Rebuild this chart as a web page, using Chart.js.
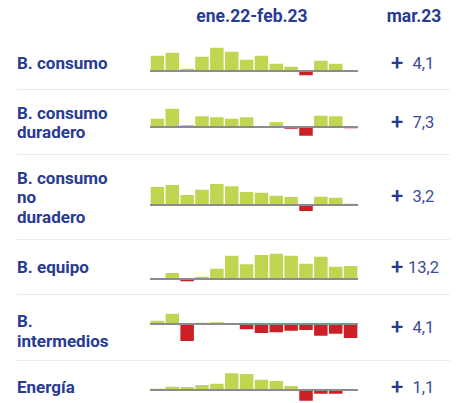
<!DOCTYPE html>
<html>
<head>
<meta charset="utf-8">
<script src="https://cdn.jsdelivr.net/npm/chart.js@4/dist/chart.umd.min.js"></script>
<style>
  html, body { margin:0; padding:0; background:#fff; }
  body { width:456px; height:403px; position:relative; overflow:hidden; font-family:"Roboto", "Liberation Sans", sans-serif; }
  .hdr { position:absolute; font-weight:bold; font-size:17.5px; color:#283b92; line-height:20px; text-align:center; }
  .lab { position:absolute; left:17px; font-weight:bold; font-size:17px; color:#283b92; line-height:19.5px; }
  .sep { position:absolute; left:17px; width:433px; height:1px; background:#ebebeb; }
  .plus { position:absolute; left:391px; font-size:22px; font-weight:500; color:#283b92; line-height:20px; }
  .val { position:absolute; width:40px; left:403.5px; text-align:center; font-size:16.5px; color:#3a4a9c; line-height:20px; }
  canvas { position:absolute; }
</style>
</head>
<body>
<div class="hdr" style="left:182px; width:140px; top:6px;">ene.22-feb.23</div>
<div class="hdr" style="left:380px; width:68px; top:6px;">mar.23</div>
<div id="root"></div>
<script>
// Row labels
const categories = ["B. consumo", "B. consumo\nduradero", "B. consumo\nno\nduradero", "B. equipo", "B.\nintermedios", "Energía"];
// Months ene.22 - feb.23
const months = ["ene.22","feb.22","mar.22","abr.22","may.22","jun.22","jul.22","ago.22","sep.22","oct.22","nov.22","dic.22","ene.23","feb.23"];
// Year-on-year rates
const consumo      = [8, 9.5, 1.5, 7.5, 12, 10, 6, 8, 4, 2.5, -2.5, 5.5, 4, -0.7];
const duradero     = [4.5, 9.5, 1.3, 5.7, 5.2, 4.5, 5.2, 0, 2.7, -1.2, -4.7, 6, 5.7, -1];
const noDuradero   = [9.3, 10.3, 5.3, 8, 10.8, 9.7, 6.8, 6.5, 5, 4.3, -3.3, 4.5, 4, 0.8];
const equipo       = [0, 3.3, -1.5, 1.5, 5.5, 12, 7.7, 12.3, 13, 12, 8, 11.5, 6.5, 6.8];
const intermedios  = [2, 5.5, -8.8, 0.8, 1.2, 0, -3, -4.8, -4.5, -3.7, -3.3, -6.2, -5.2, -7.3];
const energia      = [1, 2, 1.8, 2.8, 3.5, 8.7, 8.3, 5.5, 4.8, 2.3, -5.7, -2.2, -2.2, 0.5];
// Latest value (mar.23)
const latest = ["4,1", "7,3", "3,2", "13,2", "4,1", "1,1"];

const series = [consumo, duradero, noDuradero, equipo, intermedios, energia];

// layout (positions only)
const labelCenters = [64, 123, 198, 268, 331.5, 388];
const valueCenters = [64, 123, 197, 268, 328, 388];
const baselines = [71, 127, 205, 279, 324, 390];
const canvasTops = [44, 98, 170, 244, 298, 364];
const canvasHeights = [40, 44, 50, 46, 60, 38];
const separators = [89, 154, 239, 294, 360];
const pxPerUnit = 2;
const GREEN = "#c0d651", RED = "#cc1f26";

const root = document.getElementById("root");
separators.forEach(y => {
  const d = document.createElement("div"); d.className = "sep"; d.style.top = y + "px"; root.appendChild(d);
});
categories.forEach((c, i) => {
  const lines = c.split("\n");
  const d = document.createElement("div"); d.className = "lab";
  d.style.top = (labelCenters[i] - lines.length * 19.5 / 2) + "px";
  d.innerHTML = lines.join("<br>");
  root.appendChild(d);
  const p = document.createElement("div"); p.className = "plus"; p.textContent = "+";
  p.style.top = (valueCenters[i] - 11) + "px"; root.appendChild(p);
  const v = document.createElement("div"); v.className = "val"; v.textContent = latest[i];
  v.style.top = (valueCenters[i] - 10) + "px"; root.appendChild(v);
});

const baseLinePlugin = {
  id: "baseLine",
  afterDatasetsDraw(chart) {
    const { ctx, chartArea, scales } = chart;
    const y = scales.y.getPixelForValue(0);
    ctx.save();
    ctx.strokeStyle = "#8c8c8c";
    ctx.lineWidth = 2;
    ctx.beginPath();
    ctx.moveTo(chartArea.left, y);
    ctx.lineTo(chartArea.right, y);
    ctx.stroke();
    ctx.restore();
  }
};

series.forEach((data, i) => {
  const cv = document.createElement("canvas");
  cv.style.left = "150px"; cv.style.top = canvasTops[i] + "px";
  cv.style.width = "208px"; cv.style.height = canvasHeights[i] + "px";
  cv.width = 208; cv.height = canvasHeights[i];
  root.appendChild(cv);
  const top = canvasTops[i], h = canvasHeights[i], b = baselines[i];
  new Chart(cv, {
    type: "bar",
    data: {
      labels: months,
      datasets: [{
        data: data,
        backgroundColor: data.map(v => v < 0 ? RED : GREEN),
        borderColor: "rgba(255,255,255,0.75)",
        borderWidth: 1,
        borderSkipped: false,
        barPercentage: 1,
        categoryPercentage: 1
      }]
    },
    options: {
      responsive: false,
      animation: false,
      events: [],
      layout: { padding: 0 },
      plugins: { legend: { display: false }, tooltip: { enabled: false } },
      scales: {
        x: { display: false },
        y: { display: false, min: -(top + h - b) / pxPerUnit, max: (b - top) / pxPerUnit }
      }
    },
    plugins: [baseLinePlugin]
  });
});
</script>
</body>
</html>
